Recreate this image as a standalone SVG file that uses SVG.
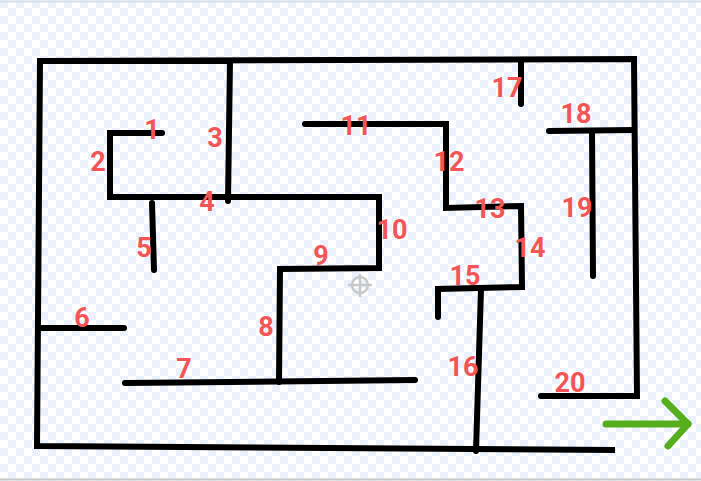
<svg xmlns="http://www.w3.org/2000/svg" width="701" height="481" viewBox="0 0 701 481">
<defs>
<pattern id="chk" width="16" height="16" patternUnits="userSpaceOnUse">
<rect width="16" height="16" fill="#ffffff"/>
<rect width="8" height="8" fill="#ebf1fb"/>
<rect x="8" y="8" width="8" height="8" fill="#ebf1fb"/>
</pattern>
<style>
.w{fill:none;stroke:#000;stroke-width:6;stroke-linecap:round;stroke-linejoin:miter}
.l{font-family:Roboto,"Liberation Sans",sans-serif;font-weight:bold;font-size:27px;fill:#f25555;text-anchor:middle}
</style>
</defs>
<rect width="701" height="481" fill="url(#chk)"/>
<line x1="0" y1="1.5" x2="701" y2="1.5" stroke="#d6deea" stroke-width="2"/>
<line x1="0" y1="479.5" x2="701" y2="479.5" stroke="#c8c8c8" stroke-width="2"/>
<g id="connectors">
<polyline class="w" points="230,61 40,61 37,446 615,450" style="stroke-linecap:butt"/>
<polyline class="w" points="40,61 634,59 637,396 541,396"/>
<line class="w" x1="230" y1="61" x2="228" y2="201"/>
<polyline class="w" points="162,133 110,133 110,197 379,197 379,268 280,269 279,382"/>
<line class="w" x1="125" y1="383" x2="415" y2="380"/>
<line class="w" x1="152" y1="203" x2="154" y2="270"/>
<line class="w" x1="40" y1="328" x2="124" y2="328"/>
<polyline class="w" points="305,124 446,124 446,208 521,206 522,287 438,289 438,317"/>
<line class="w" x1="481" y1="289" x2="476" y2="451"/>
<line class="w" x1="521" y1="61" x2="521" y2="104"/>
<line class="w" x1="549" y1="131" x2="633" y2="130"/>
<line class="w" x1="592" y1="131" x2="593" y2="276"/>
</g>
<g id="arrow" fill="none" stroke="#57ae1c" stroke-width="7" stroke-linecap="round" stroke-linejoin="round">
<line x1="606" y1="424" x2="688" y2="424"/>
<polyline points="665,401 688,424 668,446"/>
</g>
<g id="crosshair" fill="none" stroke="#c8c8c8" stroke-width="2.5">
<circle cx="360" cy="285" r="8"/>
<line x1="360" y1="274" x2="360" y2="297"/>
<line x1="348" y1="285" x2="372" y2="285"/>
</g>
<g id="labels">
<text class="l" id="n1" x="152" y="139">1</text>
<text class="l" id="n2" x="98" y="171">2</text>
<text class="l" id="n3" x="215" y="147">3</text>
<text class="l" id="n4" x="207" y="211">4</text>
<text class="l" id="n5" x="144" y="257">5</text>
<text class="l" id="n6" x="82" y="327">6</text>
<text class="l" id="n7" x="184" y="378">7</text>
<text class="l" id="n8" x="266" y="336">8</text>
<text class="l" id="n9" x="321" y="265">9</text>
<text class="l" id="n10" x="392" y="239">10</text>
<text class="l" id="n11" x="356" y="135">11</text>
<text class="l" id="n12" x="449" y="171">12</text>
<text class="l" id="n13" x="490" y="218">13</text>
<text class="l" id="n14" x="530" y="257">14</text>
<text class="l" id="n15" x="465" y="285">15</text>
<text class="l" id="n16" x="463" y="376">16</text>
<text class="l" id="n17" x="507" y="97">17</text>
<text class="l" id="n18" x="576" y="123">18</text>
<text class="l" id="n19" x="577" y="217">19</text>
<text class="l" id="n20" x="570" y="392">20</text>
</g>
</svg>
